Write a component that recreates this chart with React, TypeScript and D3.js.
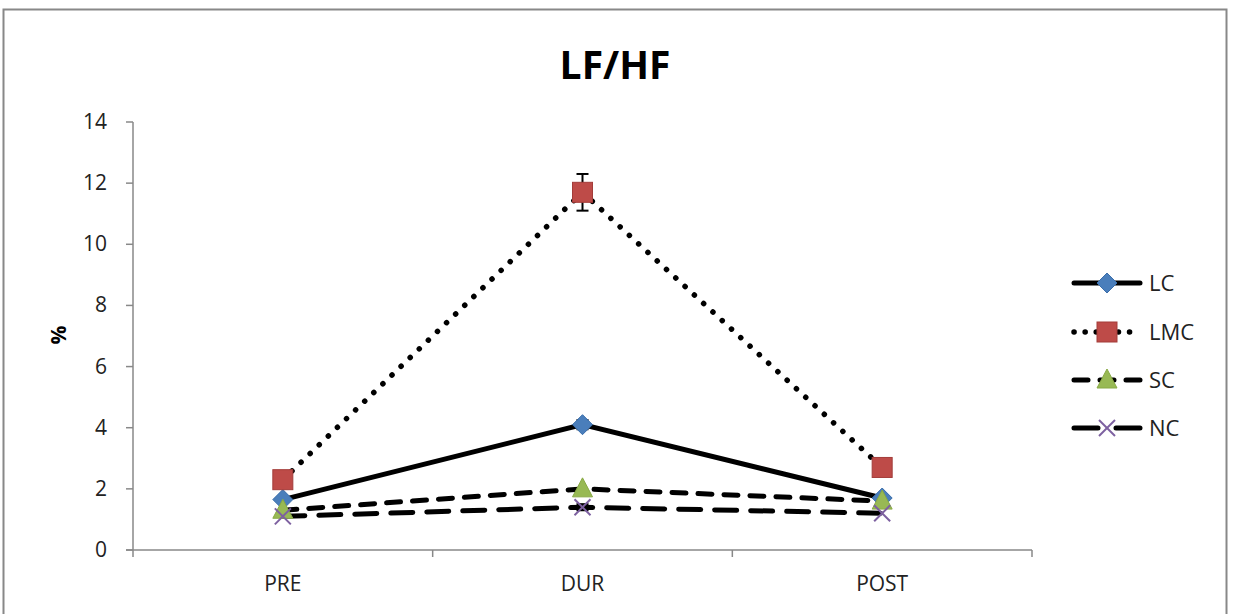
import React from "react";
import * as d3 from "d3";

const categories = ["PRE", "DUR", "POST"];
const yTicks = [0, 2, 4, 6, 8, 10, 12, 14];
const seriesNames = ["LC", "LMC", "SC", "NC"];
const lcValues = [1.65, 4.1, 1.7];
const lmcValues = [2.3, 11.7, 2.7];
const scValues = [1.3, 2.0, 1.6];
const ncValues = [1.1, 1.4, 1.2];
const lcErr = [0, 0.15, 0];
const lmcErr = [0, 0.6, 0];
const scErr = [0, 0, 0];
const ncErr = [0, 0.1, 0];

const W = 1233, H = 614;
const left = 133, right = 1032, top = 122, bottom = 550;

type S = { name: string; values: number[]; err: number[]; dash: string; marker: string; color: string };

const series: S[] = [
  { name: seriesNames[0], values: lcValues, err: lcErr, dash: "", marker: "diamond", color: "#4A7EBB" },
  { name: seriesNames[1], values: lmcValues, err: lmcErr, dash: "0.1 12.5", marker: "square", color: "#BE4B48" },
  { name: seriesNames[2], values: scValues, err: scErr, dash: "14 12", marker: "triangle", color: "#98B954" },
  { name: seriesNames[3], values: ncValues, err: ncErr, dash: "22 14", marker: "x", color: "#7D60A0" },
];

function Marker({ type, x, y, color }: { type: string; x: number; y: number; color: string }) {
  if (type === "diamond") {
    const s = 10;
    return <path d={`M${x},${y - s}L${x + s},${y}L${x},${y + s}L${x - s},${y}Z`} fill={color} stroke="#3A6EAB" strokeWidth={1} />;
  }
  if (type === "square") {
    const s = 10;
    return <rect x={x - s} y={y - s} width={2 * s} height={2 * s} fill={color} stroke="#A33C39" strokeWidth={1} />;
  }
  if (type === "triangle") {
    const s = 10;
    return <path d={`M${x},${y - s - 1}L${x + s},${y + s - 2}L${x - s},${y + s - 2}Z`} fill={color} stroke="#88A944" strokeWidth={1} />;
  }
  const s = 8;
  return (
    <g stroke={color} strokeWidth={2}>
      <line x1={x - s} y1={y - s} x2={x + s} y2={y + s} />
      <line x1={x - s} y1={y + s} x2={x + s} y2={y - s} />
    </g>
  );
}

export default function App() {
  const x = d3.scaleBand<string>().domain(categories).range([left, right]);
  const y = d3.scaleLinear().domain([0, 14]).range([bottom, top]);
  const cx = (c: string) => (x(c) as number) + x.bandwidth() / 2;
  const font = "Open Sans, Noto Sans, sans-serif";
  const line = d3.line<number>().x((_, i) => cx(categories[i])).y((v) => y(v));
  const boundaries = [left, ...categories.map((c) => (x(c) as number) + x.bandwidth())];
  const legendY = [283, 332, 380, 428];

  return (
    <svg width={W} height={H} style={{ position: "absolute", left: 0, top: 0, background: "#fff" }}>
      <rect x={3.5} y={9.5} width={1223} height={640} fill="#fff" stroke="#888" strokeWidth={2} />
      <text x={615} y={79} textAnchor="middle" fontFamily={font} fontWeight="bold" fontSize={39} fill="#000">LF/HF</text>
      {/* y axis */}
      <line x1={left} y1={top} x2={left} y2={bottom} stroke="#888" strokeWidth={1.5} />
      {yTicks.map((t) => (
        <g key={t}>
          <line x1={left - 7} x2={left} y1={y(t)} y2={y(t)} stroke="#888" strokeWidth={1.5} />
          <text x={left - 26} y={y(t) + 7} textAnchor="end" fontFamily={font} fontSize={21} fill="#222">{t}</text>
        </g>
      ))}
      <text transform={`translate(66,335) rotate(-90)`} textAnchor="middle" fontFamily={font} fontWeight="bold" fontSize={21}>%</text>
      {/* x axis */}
      <line x1={left - 7} x2={right} y1={bottom} y2={bottom} stroke="#888" strokeWidth={1.5} />
      {boundaries.map((b, i) => (
        <line key={i} x1={b} x2={b} y1={bottom} y2={bottom + 7} stroke="#888" strokeWidth={1.5} />
      ))}
      {categories.map((c) => (
        <text key={c} x={cx(c)} y={591} textAnchor="middle" fontFamily={font} fontSize={21} fill="#222">{c}</text>
      ))}
      {/* lines */}
      {series.map((s) => (
        <path key={s.name} d={line(s.values) || ""} fill="none" stroke="#000" strokeWidth={s.marker === "square" ? 5.5 : 5}
          strokeDasharray={s.dash || undefined} strokeLinecap={s.dash ? "round" : "butt"} />
      ))}
      {/* error bars */}
      {series.map((s) => s.values.map((v, i) => s.err[i] > 0 ? (
        <g key={s.name + i} stroke="#000" strokeWidth={2}>
          <line x1={cx(categories[i])} x2={cx(categories[i])} y1={y(v + s.err[i])} y2={y(v - s.err[i])} />
          <line x1={cx(categories[i]) - 6} x2={cx(categories[i]) + 6} y1={y(v + s.err[i])} y2={y(v + s.err[i])} />
          <line x1={cx(categories[i]) - 6} x2={cx(categories[i]) + 6} y1={y(v - s.err[i])} y2={y(v - s.err[i])} />
        </g>
      ) : null))}
      {/* markers */}
      {series.map((s) => s.values.map((v, i) => (
        <Marker key={s.name + "m" + i} type={s.marker} x={cx(categories[i])} y={y(v)} color={s.color} />
      )))}
      {/* legend */}
      {series.map((s, i) => (
        <g key={"lg" + s.name}>
          <line x1={1074} x2={1140} y1={legendY[i]} y2={legendY[i]} stroke="#000" strokeWidth={s.marker === "square" ? 5.5 : 5}
            strokeDasharray={s.marker === "square" ? "0.1 11" : s.marker === "triangle" ? "14 12" : s.marker === "x" ? "24 18" : undefined}
            strokeLinecap="round" />
          <Marker type={s.marker} x={1107} y={legendY[i]} color={s.color} />
          <text x={1149} y={legendY[i] + 8} fontFamily={font} fontSize={22} fill="#222">{s.name}</text>
        </g>
      ))}
    </svg>
  );
}
